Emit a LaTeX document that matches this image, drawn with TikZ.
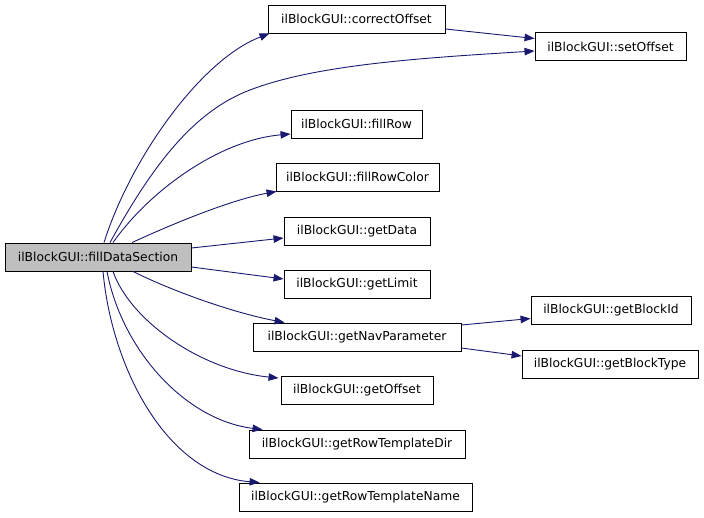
\documentclass[tikz,border=0pt]{standalone}
\usepackage{fontspec}
\setmainfont{DejaVu Sans}
\usetikzlibrary{arrows.meta,calc}
\definecolor{edgeblue}{HTML}{191970}
\definecolor{mainfill}{HTML}{BFBFBF}
\tikzset{
  fn/.style={draw=black, line width=0.9pt, fill=white, inner sep=0pt,
    minimum height=28pt, font=\fontsize{12.3}{14}\selectfont, text=black},
  mainfn/.style={fn, fill=mainfill},
  call/.style={draw=edgeblue, line width=0.9pt,
    -{Triangle[length=10pt,width=7.5pt]}},
}
\begin{document}
\begin{tikzpicture}[x=1pt,y=-1pt]
\useasboundingbox (0,0) rectangle (704,517);
% nodes
\node[mainfn, minimum width=186pt] (main) at (98,257) {ilBlockGUI::fillDataSection};
\node[fn, minimum width=177pt] (co)  at (356.5,19)   {ilBlockGUI::correctOffset};
\node[fn, minimum width=151pt] (so)  at (610.5,46.5) {ilBlockGUI::setOffset};
\node[fn, minimum width=131pt] (fr)  at (356.5,124)  {ilBlockGUI::fillRow};
\node[fn, minimum width=163pt] (frc) at (357.5,177)  {ilBlockGUI::fillRowColor};
\node[fn, minimum width=146pt] (gd)  at (357,231)    {ilBlockGUI::getData};
\node[fn, minimum width=146pt] (gl)  at (357,284)    {ilBlockGUI::getLimit};
\node[fn, minimum width=208pt] (gnp) at (357,337)    {ilBlockGUI::getNavParameter};
\node[fn, minimum width=152pt] (go)  at (357,390.5)  {ilBlockGUI::getOffset};
\node[fn, minimum width=216pt] (grd) at (357,444)    {ilBlockGUI::getRowTemplateDir};
\node[fn, minimum width=233pt] (grn) at (355.5,497)  {ilBlockGUI::getRowTemplateName};
\node[fn, minimum width=160pt] (gbi) at (611,310.5)  {ilBlockGUI::getBlockId};
\node[fn, minimum width=176pt] (gbt) at (610,364)    {ilBlockGUI::getBlockType};
% edges
\draw[call] ($(main.north)+(6,0)$) .. controls (130,160) and (200,60) .. ($(co.south west)+(2,0)$);
\draw[call] ($(main.north)+(12,0)$) .. controls (150,170) and (190,115) .. (245,92)
            .. controls (310,65) and (420,58) .. ($(so.west)+(0,4.5)$);
\draw[call] ($(main.north)+(15,0)$) .. controls (150,190) and (220,140) .. ($(fr.west)+(0,10)$);
\draw[call] ($(main.north)+(34,0)$) .. controls (170,225) and (230,200) .. ($(frc.south west)+(1,0)$);
\draw[call] ($(main.east)+(0,-9)$) -- ($(gd.west)+(0,7)$);
\draw[call] ($(main.east)+(0,10)$) -- ($(gl.west)+(0,-5)$);
\draw[call] ($(main.south)+(35,0)$) .. controls (170,290) and (230,312) .. ($(gnp.north west)+(32,0)$);
\draw[call] ($(main.south)+(15,0)$) .. controls (130,320) and (200,370) .. ($(go.north west)+(-2,2)$);
\draw[call] ($(main.south)+(9,0)$) .. controls (122,350) and (185,420) .. ($(grd.north west)+(14,0)$);
\draw[call] ($(main.south)+(5,0)$) .. controls (112,370) and (168,475) .. ($(grn.north west)+(21,0)$);
\draw[call] ($(co.east)+(0,10)$) -- ($(so.west)+(0,-8)$);
\draw[call] ($(gnp.east)+(0,-12)$) -- ($(gbi.west)+(0,8)$);
\draw[call] ($(gnp.east)+(0,11)$) -- ($(gbt.west)+(0,-8)$);
\end{tikzpicture}
\end{document}
